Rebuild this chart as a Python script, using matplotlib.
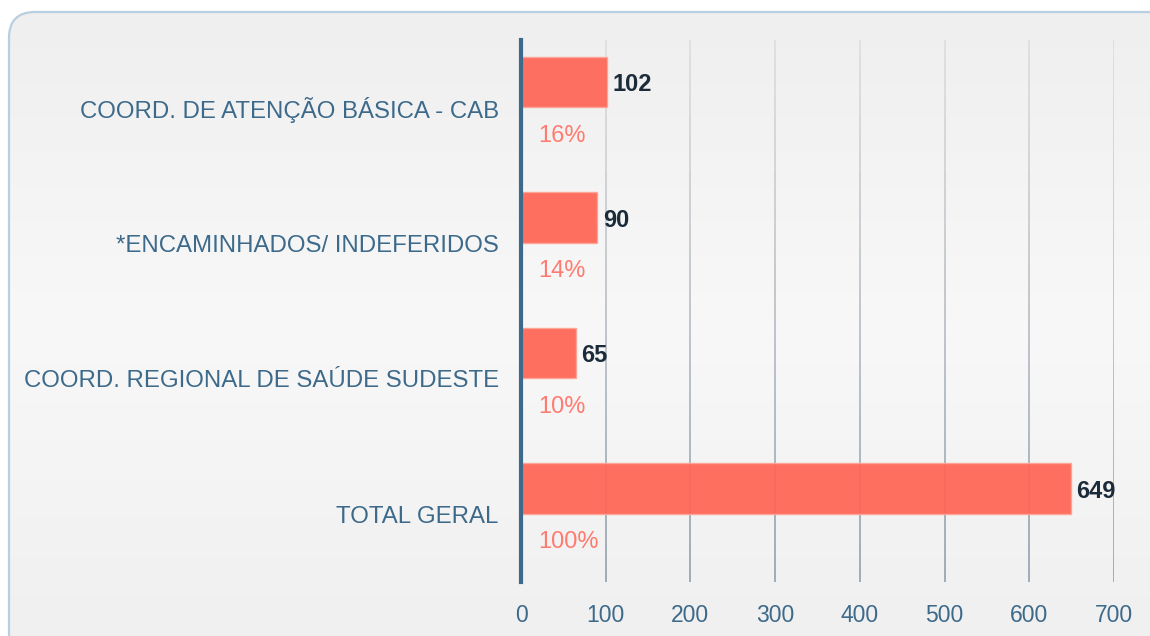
import numpy as np
import matplotlib
matplotlib.use("Agg")
import matplotlib.pyplot as plt
from matplotlib.patches import FancyBboxPatch
from matplotlib.collections import LineCollection
from matplotlib.colors import LinearSegmentedColormap

# ==== dados ====
categorias = ["COORD. DE ATENÇÃO BÁSICA - CAB",
              "*ENCAMINHADOS/ INDEFERIDOS",
              "COORD. REGIONAL DE SAÚDE SUDESTE",
              "TOTAL GERAL"]
valores = [102, 90, 65, 649]
percentuais = ["16%", "14%", "10%", "100%"]
xticks = [0, 100, 200, 300, 400, 500, 600, 700]

plt.rcParams['font.family'] = ['Liberation Sans', 'DejaVu Sans']
AZUL = "#3d6a8a"
BARRA = "#ff6555"

fig = plt.figure(figsize=(11.5, 6.36), dpi=100)
fig.patch.set_facecolor("white")

# ==== fundo arredondado com gradiente ====
bg = fig.add_axes([0, 0, 1, 1], zorder=-10)
bg.set_xlim(0, 1150)
bg.set_ylim(636, 0)
bg.axis("off")
caixa = FancyBboxPatch((9, 12), 1170, 700, boxstyle="round,pad=0,rounding_size=26",
                       facecolor="none", edgecolor="#b7cfe0", linewidth=1.6, zorder=2)
bg.add_patch(caixa)
grad = LinearSegmentedColormap.from_list("g", ["#efefef", "#f8f8f8", "#f0f0f0"])
img = bg.imshow(np.linspace(0, 1, 256).reshape(-1, 1), cmap=grad, aspect="auto",
                extent=(0, 1150, 636, 12), zorder=1)
img.set_clip_path(caixa)

# ==== gráfico ====
ax = fig.add_axes([521 / 1150, 1 - 582 / 636, (1114 - 521) / 1150, (582 - 40) / 636])
ax.set_facecolor("none")
ax.set_xlim(0, 700)
ax.set_ylim(len(categorias) - 0.5, -0.5)

y = np.arange(len(categorias))
ax.barh(y - 0.19, valores, height=0.37, color=BARRA, alpha=0.93,
        edgecolor="#ffa597", linewidth=1, zorder=3)

# linhas de grade com gradiente (claro em cima, escuro embaixo)
ys = np.linspace(-0.5, len(categorias) - 0.5, 30)
cores = LinearSegmentedColormap.from_list("l", ["#dedede", "#9aa6b1"])(np.linspace(0, 1, len(ys) - 1))
for xt in xticks[1:]:
    segs = [[(xt, ys[k]), (xt, ys[k + 1])] for k in range(len(ys) - 1)]
    ax.add_collection(LineCollection(segs, colors=cores, linewidths=1.3, zorder=2))

ax.axvline(0, color=AZUL, linewidth=3, zorder=4, clip_on=False)

for i, (v, p) in enumerate(zip(valores, percentuais)):
    ax.annotate(str(v), (v, i - 0.19), xytext=(4, 0), textcoords="offset points",
                ha="left", va="center_baseline", fontsize=17, fontweight="bold",
                color="#1c2b39", zorder=5)
    ax.text(20, i + 0.19, p, ha="left", va="center_baseline", fontsize=17,
            color="#ff7b70", zorder=5)

ax.set_yticks(y)
ax.set_yticklabels(categorias, fontsize=17.3, color=AZUL)
ax.set_xticks(xticks)
ax.set_xticklabels([str(t) for t in xticks], fontsize=16.5, color=AZUL)
ax.tick_params(axis="y", length=0, pad=16)
ax.tick_params(axis="x", length=0, pad=16)
for s in ax.spines.values():
    s.set_visible(False)

fig.savefig("out.png", dpi=100)
